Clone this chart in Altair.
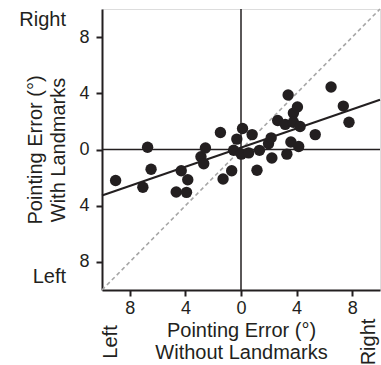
import altair as alt
import pandas as pd

# Participant points (x: without landmarks, y: with landmarks), degrees
err_without = [-9.02, -7.06, -6.72, -6.47, -4.66, -3.92, -4.30, -3.83, -2.88, -2.68,
               -2.56, -1.48, -1.29, -0.67, -0.53, -0.30, 0.11, 0.02, 0.55, 0.80,
               1.33, 1.15, 1.98, 2.17, 2.22, 2.64, 3.18, 3.30, 3.39, 3.59,
               3.77, 3.77, 4.06, 4.15, 4.25, 5.34, 6.48, 7.36, 7.77]
err_with = [-2.21, -2.69, 0.16, -1.41, -3.03, -3.05, -1.51, -2.15, -0.51, -1.01,
            0.11, 1.21, -2.10, -1.51, -0.05, 0.74, 1.49, -0.33, -0.24, 1.06,
            -0.06, -1.48, 0.42, 0.83, -0.60, 2.06, 1.79, -0.33, 3.88, 0.53,
            2.59, 1.94, 3.02, 0.21, 1.64, 1.06, 4.45, 3.09, 1.94]

# Regression line endpoints
fit_x = [-10, 10]
fit_y = [-3.27, 3.54]

# Identity line
diag_x = [-10, 10]
diag_y = [-10, 10]

tick_vals = [-8, -6, -4, -2, 0, 2, 4, 6, 8]
dom = [-10, 10]

INK = "#231f20"
FONT = "Liberation Sans"

pts = pd.DataFrame({"x": err_without, "y": err_with})
fit = pd.DataFrame({"x": fit_x, "y": fit_y})
diag = pd.DataFrame({"x": diag_x, "y": diag_y})
zero = pd.DataFrame({"v": [0]})

label_expr = "datum.value % 4 === 0 ? format(abs(datum.value), 'd') : ''"

xscale = alt.Scale(domain=dom, nice=False, zero=False)
yscale = alt.Scale(domain=dom, nice=False, zero=False)

xaxis = alt.Axis(values=tick_vals, labelExpr=label_expr, grid=False,
                 title=["Pointing Error (°)", "Without Landmarks"],
                 titleFontSize=20, titleFont=FONT, titleFontWeight="normal",
                 titleColor=INK, titleLineHeight=22, titlePadding=3,
                 labelFontSize=18, labelFont=FONT, labelColor=INK, labelPadding=3,
                 tickSize=6, tickWidth=2, tickColor=INK,
                 domainWidth=2, domainColor=INK, labelFlush=False)
yaxis = alt.Axis(values=tick_vals, labelExpr=label_expr, grid=False,
                 title=["Pointing Error (°)", "With Landmarks"],
                 titleFontSize=20, titleFont=FONT, titleFontWeight="normal",
                 titleColor=INK, titleLineHeight=23, titlePadding=10,
                 labelFontSize=18, labelFont=FONT, labelColor=INK, labelPadding=7,
                 tickSize=6, tickWidth=2, tickColor=INK,
                 domainWidth=2, domainColor=INK, labelFlush=False)

diag_line = alt.Chart(diag).mark_line(color="#a6a6a6", strokeDash=[4, 3], strokeWidth=1.6).encode(
    x=alt.X("x:Q", scale=xscale, axis=xaxis),
    y=alt.Y("y:Q", scale=yscale, axis=yaxis),
)
vrule = alt.Chart(zero).mark_rule(color=INK, strokeWidth=1.5).encode(x=alt.X("v:Q", scale=xscale))
hrule = alt.Chart(zero).mark_rule(color=INK, strokeWidth=1.5).encode(y=alt.Y("v:Q", scale=yscale))
fit_line = alt.Chart(fit).mark_line(color=INK, strokeWidth=2).encode(
    x=alt.X("x:Q", scale=xscale), y=alt.Y("y:Q", scale=yscale))
dots = alt.Chart(pts).mark_circle(color=INK, size=130, opacity=1).encode(
    x=alt.X("x:Q", scale=xscale), y=alt.Y("y:Q", scale=yscale))

side_labels = pd.DataFrame({"t": ["Right", "Left"], "py": [17, 274]})
ylab = alt.Chart(side_labels).mark_text(font=FONT, fontSize=20, color=INK, align="right",
                                         baseline="alphabetic").encode(
    text="t:N", x=alt.value(-36), y=alt.Y("py:Q", scale=None))

bottom_labels = pd.DataFrame({"t": ["Left", "Right"], "px": [9, 266.5]})
xlab = alt.Chart(bottom_labels).mark_text(font=FONT, fontSize=20, color=INK, align="center",
                                          baseline="middle", angle=270).encode(
    text="t:N", x=alt.X("px:Q", scale=None), y=alt.value(333))

chart = alt.layer(diag_line, vrule, hrule, fit_line, dots, ylab, xlab).properties(
    width=278, height=281,
    autosize=alt.AutoSizeParams(type="none"),
    padding={"left": 102, "top": 9, "right": 1, "bottom": 75},
).configure_view(stroke=INK, strokeWidth=2).configure(background="white")

chart.save("out.html", embed_options={"renderer": "svg", "actions": False})
